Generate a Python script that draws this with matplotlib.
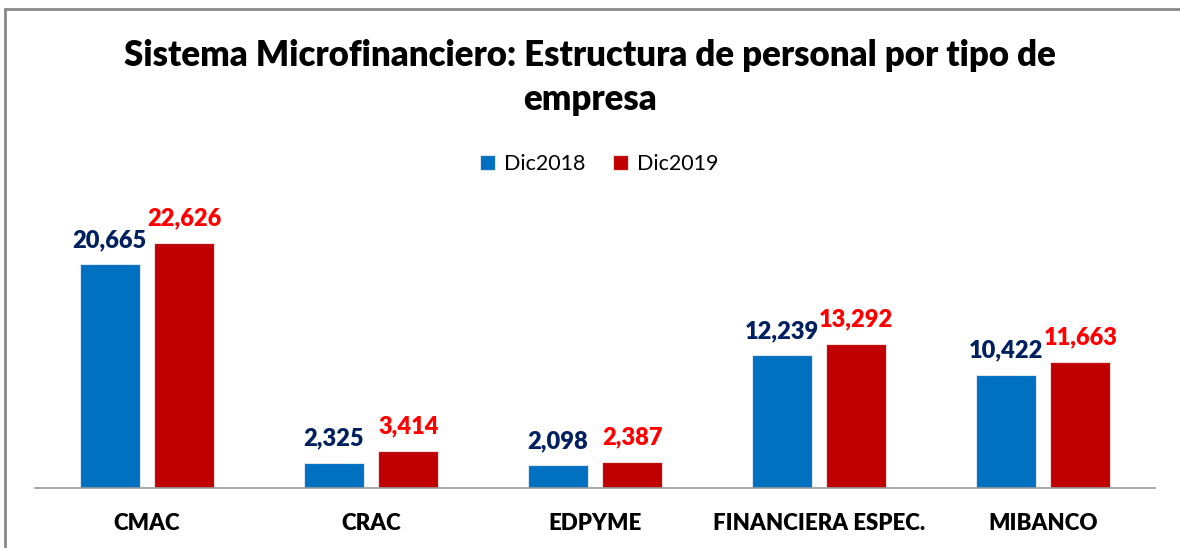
import matplotlib
matplotlib.use("Agg")
import matplotlib.pyplot as plt
import numpy as np
from matplotlib.patches import Rectangle

categories = ["CMAC", "CRAC", "EDPYME", "FINANCIERA ESPEC.", "MIBANCO"]
dic2018 = [20665, 2325, 2098, 12239, 10422]
dic2019 = [22626, 3414, 2387, 13292, 11663]
series_names = ["Dic2018", "Dic2019"]

BLUE = "#0070C0"
RED = "#C00000"
NAVY = "#002060"
LABEL_RED = "#FF0000"

plt.rcParams["font.family"] = ["Lato", "DejaVu Sans"]

W, H = 1180, 548
fig = plt.figure(figsize=(W / 100, H / 100), dpi=100)
fig.patch.set_facecolor("white")

# outer chart frame, runs off the right and bottom edge
fig.patches.append(Rectangle((5 / W, -0.05), 1.2, 1 - 8.5 / H + 0.05,
                             transform=fig.transFigure, fill=False,
                             edgecolor="#888888", linewidth=2, clip_on=False))

ax = fig.add_axes([35 / W, 1 - 488 / H, 1120 / W, 300 / H])
x = np.arange(len(categories))
bw = 0.268
off = 0.167
b1 = ax.bar(x - off, dic2018, bw, color=BLUE, edgecolor="#dbe6f1", linewidth=0.8,
            label=series_names[0], zorder=2)
b2 = ax.bar(x + off, dic2019, bw, color=RED, edgecolor="#f2dcdb", linewidth=0.8,
            label=series_names[1], zorder=2)

ax.set_xlim(-0.5, len(categories) - 0.5)
ax.set_ylim(0, 300 / 0.010828)

for bars, vals, col in ((b1, dic2018, NAVY), (b2, dic2019, LABEL_RED)):
    for r, v in zip(bars, vals):
        ax.annotate(f"{v:,}", (r.get_x() + r.get_width() / 2, v),
                    xytext=(0, 12.5), textcoords="offset points",
                    ha="center", va="baseline", fontsize=17,
                    fontweight="heavy", color=col)

for s in ("top", "right", "left"):
    ax.spines[s].set_visible(False)
ax.spines["bottom"].set_color("#999999")
ax.spines["bottom"].set_linewidth(1.2)
ax.set_yticks([])
ax.set_xticks(x)
ax.set_xticklabels(categories, fontsize=16, fontweight="heavy")
ax.tick_params(axis="x", length=0, pad=18)

fig.text(0.5, 1 - 55 / H, "Sistema Microfinanciero: Estructura de personal por tipo de",
         ha="center", va="center", fontsize=25, fontweight="heavy")
fig.text(0.5, 1 - 99 / H, "empresa",
         ha="center", va="center", fontsize=25, fontweight="heavy")

fig.legend(handles=[b1, b2], labels=series_names, loc="center",
           bbox_to_anchor=(599 / W, 1 - 164 / H), ncol=2, frameon=False,
           fontsize=15.5, handlelength=0.7, handleheight=0.7,
           handletextpad=0.4, columnspacing=1.3)

fig.savefig("out.png", dpi=100, facecolor="white")
